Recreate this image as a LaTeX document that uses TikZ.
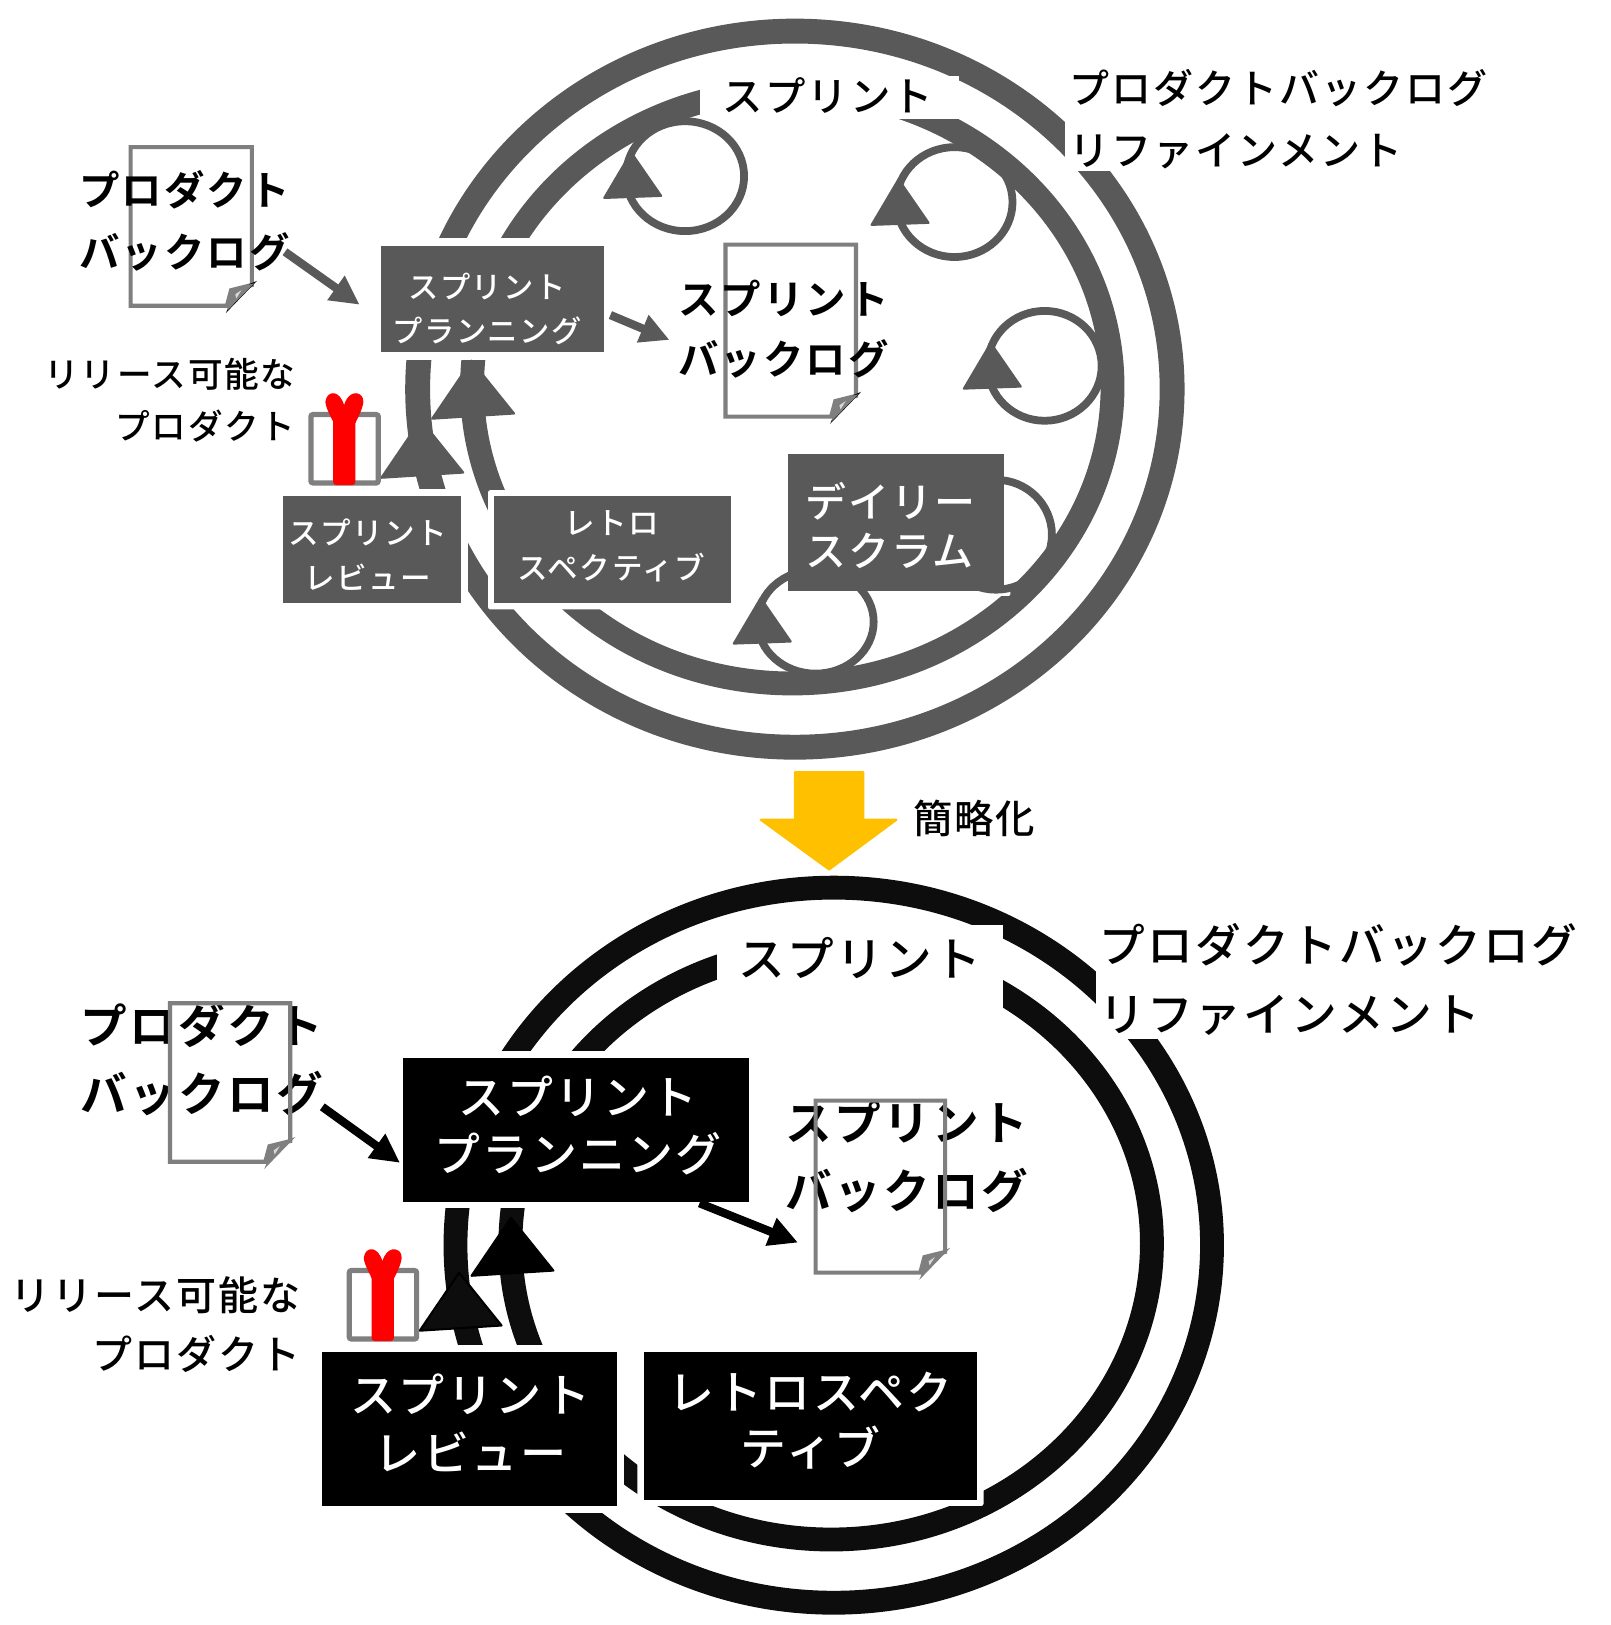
\documentclass[tikz,border=0pt]{standalone}
\usepackage{fontspec}
\setmainfont[LetterSpace=5]{Noto Sans CJK JP Medium}
\newfontfamily\jpheavy[LetterSpace=5]{Noto Sans CJK JP Bold}
\usetikzlibrary{arrows.meta}
\definecolor{gy}{HTML}{595959}
\definecolor{ringk}{HTML}{0D0D0D}
\definecolor{docg}{HTML}{7F7F7F}
\definecolor{yel}{HTML}{FFC000}
\newcommand\jfs[2]{\fontsize{#1pt}{#2pt}\selectfont}
\newcommand\docW{117}\newcommand\docH{153}\newcommand\docTip{docg}
\tikzset{
  ring/.style={line width=#1pt},
  maskbox/.style={fill=white,draw=none,rounded corners=2pt},
  box/.style={rectangle,inner sep=0pt,outer sep=0pt,text=white,align=center},
  lbl/.style={inner sep=0pt,outer sep=0pt,text=black,align=center},
  loopring/.style={draw=gy,line width=7.5pt},
  conn/.style={line width=8pt,-{Triangle[length=28pt,width=27pt]}},
  lhead/.pic={\fill[gy,draw=gy,line width=2pt,line join=round] (0,0)--(55,-2)--(26,-44)--cycle;},
  bighead/.pic={\fill[pic actions,line width=2pt,line join=round] (0,0)--(79,-5)--(38,-56)--cycle;},
  doc/.pic={
    \draw[docg,line width=4pt,line join=miter]
      (0,\docH)--(0,0)--(\docW,0)--(\docW,\docH-20)--(\docW-20,\docH-15)--(\docW-24,\docH)--cycle;
    \fill[\docTip] (\docW-25,\docH+7)--(\docW+5,\docH-24)--(\docW-2,\docH-21)--(\docW-22,\docH)--cycle;
    \fill[docg] (\docW-23.5,\docH+4.5)--(\docW+2,\docH-21.5)--(\docW-20,\docH-16)--cycle;
    \fill[white!70!docg] (\docW-16,\docH-11)--(\docW-10,\docH-15)--(\docW-15,\docH-7)--cycle;
  },
  gift/.pic={
    \draw[docg,line width=5pt,rounded corners=2pt,fill=white] (0,0) rectangle (65,66);
    \fill[red,rounded corners=3pt] (21.5,2) rectangle (43,68);
    \fill[red] (22,8) .. controls (16,-4) and (12,-12) .. (15,-16)
      .. controls (18,-23) and (28,-23) .. (32,-9)
      .. controls (36,-23) and (47,-23) .. (50,-16)
      .. controls (52,-12) and (49,-4) .. (43,8) -- cycle;
  }
}
\begin{document}
\begin{tikzpicture}[x=1pt,y=-1pt,line cap=butt]
\useasboundingbox (0,0) rectangle (1554,1568);
\fill[white] (0,0) rectangle (1554,1568);

% ===== upper diagram =====
\draw[gy,ring=24] (767,375.5) ellipse [x radius=364pt,y radius=345.5pt];
\draw[gy,ring=23] (764.5,373) ellipse [x radius=309pt,y radius=286.5pt];
\fill[maskbox,rounded corners=0pt] (675,73) rectangle (925,115);
\fill[maskbox,rounded corners=0pt] (1028,55) rectangle (1440,165);
\fill[maskbox,rounded corners=0pt] (361,230) rectangle (590,347);
\fill[maskbox,rounded corners=0pt] (265,472) rectangle (452,590);
\fill[maskbox] (471,473) rectangle (711,588);
\fill[maskbox] (753,431) rectangle (975,575);

\draw[loopring] (661,170) ellipse [x radius=57pt,y radius=53pt];
\draw[loopring] (921,195) ellipse [x radius=56pt,y radius=53pt];
\draw[loopring] (1008,353) ellipse [x radius=55pt,y radius=53pt];
\draw[loopring] (961,516) ellipse [x radius=54pt,y radius=53pt];
\draw[loopring] (787,600) ellipse [x radius=56pt,y radius=50pt];
\pic at (583,191) {lhead};
\pic at (841,217) {lhead};
\pic at (930,375) {lhead};
\pic at (708,621) {lhead};
\pic[fill=gy,draw=gy] at (417,404) {bighead};
\pic[fill=gy,draw=gy] at (368,461) {bighead};

\begingroup\renewcommand\docTip{black}
\pic at (126,142) {doc};
\renewcommand\docW{126}\renewcommand\docH{166}
\pic at (700,236) {doc};
\endgroup
\pic at (300,400) {gift};

\node[box,fill=gy,minimum width=215pt,minimum height=103pt] (plan1) at (475.5,288.5) {};
\node[box,fill=gy,minimum width=172pt,minimum height=103pt] (rev1) at (359,530.5) {};
\node[box,fill=gy,minimum width=228pt,minimum height=103pt] (retro1) at (591,530.5) {};
\node[box,fill=gy,minimum width=209pt,minimum height=132pt] (daily1) at (864.5,504) {};

\node[box,font=\jfs{29.2}{43}] (plan1t) at (470,298) {スプリント\\プランニング};
\node[box,font=\jfs{29.5}{44}] (rev1t) at (355,535) {スプリント\\レビュー};
\node[box,font=\jfs{29.5}{43}] (retro1t) at (590,527) {レトロ\\スペクティブ};
\node[box,align=left,anchor=west,font=\jfs{39.5}{47}] (daily1t) at (777,507) {デイリー\\スクラム};

\node[lbl,font=\jpheavy\jfs{39}{60}] (pb1) at (178,213) {プロダクト\\バックログ};
\node[lbl,font=\jpheavy\jfs{39}{58}] (sb1) at (756,318) {スプリント\\バックログ};
\node[lbl,font=\jfs{39}{60}] (sp1) at (799,92) {スプリント};
\node[lbl,align=left,anchor=west,font=\jfs{38.6}{60}] (ref1) at (1032,115) {プロダクトバックログ\\リファインメント};
\node[lbl,align=right,anchor=east,font=\jfs{33.4}{50}] (rel1) at (285,386) {リリース可能な\\プロダクト};

\coordinate (a1s) at (275,243);
\coordinate (a1e) at (347,294);
\coordinate (a2s) at (589,304);
\coordinate (a2e) at (646,328);
\draw[conn,gy] (a1s)--(a1e);
\draw[conn,gy] (a2s)--(a2e);

% ===== simplify arrow =====
\fill[yel,draw=yel,line width=2pt,line join=round]
  (767,745)--(833,745)--(833,791)--(865,791)--(800,839)--(734,791)--(767,791)--cycle;
\node[lbl,font=\jfs{38}{40}] (simp) at (940,790) {簡略化};

% ===== lower diagram =====
\draw[ringk,ring=23] (804.5,1201.5) ellipse [x radius=365pt,y radius=345pt];
\draw[ringk,ring=23] (802,1200) ellipse [x radius=309.5pt,y radius=285.5pt];
\fill[maskbox,rounded corners=0pt] (692,893) rectangle (968,995);
\fill[maskbox,rounded corners=0pt] (1058,880) rectangle (1530,1003);
\fill[maskbox,rounded corners=0pt] (381,1014) rectangle (731,1166);
\fill[maskbox,rounded corners=0pt] (304,1298) rectangle (602,1460);
\fill[maskbox] (615,1299) rectangle (949,1453);

\pic[fill=ringk,draw=black] at (405,1284) {bighead};
\pic[fill=black,draw=black] at (455,1231) {bighead};

\node[lbl,font=\jpheavy\jfs{45}{66}] (pb2) at (195,1022) {プロダクト\\バックログ};
\node[lbl,font=\jpheavy\jfs{45}{66}] (sb2) at (875,1116) {スプリント\\バックログ};
\begingroup\renewcommand\docW{116}
\pic at (164,968) {doc};
\endgroup
\begingroup\renewcommand\docW{125}\renewcommand\docH{166}
\pic at (787,1062) {doc};
\endgroup
\pic at (337,1226) {gift};

\node[box,fill=black,minimum width=334pt,minimum height=139pt] (plan2) at (556,1090.5) {};
\node[box,fill=black,minimum width=284pt,minimum height=148pt] (rev2) at (453,1379) {};
\node[box,fill=black,minimum width=322pt,minimum height=142pt] (retro2) at (782,1376) {};
\node[box,font=\jfs{44.3}{55}] (plan2t) at (558,1086) {スプリント\\プランニング};
\node[box,font=\jfs{44.5}{56}] (rev2t) at (454,1373) {スプリント\\レビュー};
\node[box,font=\jfs{44.3}{54}] (retro2t) at (782,1371) {レトロスペク\\ティブ};

\node[lbl,font=\jfs{45}{60}] (sp2) at (830,924) {スプリント};
\node[lbl,align=left,anchor=west,font=\jfs{44.1}{67}] (ref2) at (1061,945) {プロダクトバックログ\\リファインメント};
\node[lbl,align=right,anchor=east,font=\jfs{38.6}{57}] (rel2) at (290,1278) {リリース可能な\\プロダクト};

\coordinate (a3s) at (311,1068);
\coordinate (a3e) at (386,1122);
\coordinate (a4s) at (675,1161);
\coordinate (a4e) at (770,1199);
\draw[conn,black] (a3s)--(a3e);
\draw[conn,black] (a4s)--(a4e);
\end{tikzpicture}
\end{document}
